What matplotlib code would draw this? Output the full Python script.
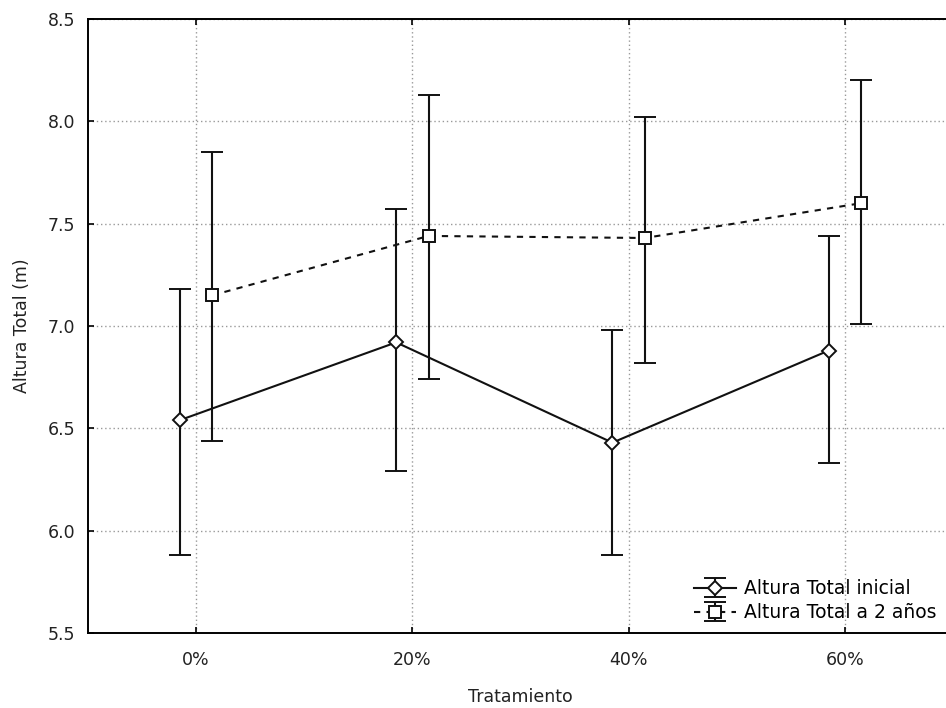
import numpy as np
import matplotlib.pyplot as plt

plt.rcParams['font.family'] = ['DejaVu Sans']

# tratamientos y medias con sus intervalos (limite inferior / superior)
tratamientos = ['0%', '20%', '40%', '60%']
inicial_media = [6.54, 6.92, 6.43, 6.88]
inicial_sup = [7.18, 7.57, 6.98, 7.44]
inicial_inf = [5.88, 6.29, 5.88, 6.33]
dos_anios_media = [7.15, 7.44, 7.43, 7.60]
dos_anios_sup = [7.85, 8.13, 8.02, 8.20]
dos_anios_inf = [6.44, 6.74, 6.82, 7.01]

x = np.arange(len(tratamientos))
desp = 0.075

fig = plt.figure(figsize=(9.46, 7.08), dpi=100)
ax = fig.add_axes([88/946, 75/708, 865/946, 614/708])

def barras(media, inf, sup):
    media = np.array(media)
    return [media - np.array(inf), np.array(sup) - media]

ax.errorbar(x - desp, inicial_media, yerr=barras(inicial_media, inicial_inf, inicial_sup),
            color='#111111', lw=1.5, elinewidth=1.5, capsize=8, capthick=1.5,
            marker='D', ms=7.5, mfc='white', mec='#111111', mew=1.4,
            label='Altura Total inicial', zorder=3)
ax.errorbar(x + desp, dos_anios_media, yerr=barras(dos_anios_media, dos_anios_inf, dos_anios_sup),
            color='#111111', lw=1.5, ls=(0, (3, 3)), elinewidth=1.5, capsize=8, capthick=1.5,
            marker='s', ms=8, mfc='white', mec='#111111', mew=1.4,
            label='Altura Total a 2 años', zorder=3)

ax.set_xlim(-0.5, 3.5)
ax.set_ylim(5.5, 8.5)
ax.set_xticks(x)
ax.set_xticklabels(tratamientos)
ax.set_yticks(np.arange(5.5, 8.51, 0.5))
ax.set_yticklabels(['%.1f' % v for v in np.arange(5.5, 8.51, 0.5)])

ax.grid(True, ls=(0, (1, 2)), color='#999999', lw=1)
ax.tick_params(direction='in', length=4, width=1.2, top=True, right=False,
               labelsize=12.5, labelcolor='#222222')
ax.tick_params(axis='y', pad=9)
ax.tick_params(axis='x', pad=13)
for s in ax.spines.values():
    s.set_linewidth(1.4)
ax.spines['right'].set_visible(False)

ax.set_xlabel('Tratamiento', fontsize=12.5, color='#222222', labelpad=14)
ax.set_ylabel('Altura Total (m)', fontsize=12.5, color='#222222', labelpad=12)

ax.legend(loc='upper left', bbox_to_anchor=(685/946, 1 - 570/708),
          bbox_transform=fig.transFigure, frameon=False, fontsize=13.5,
          borderpad=0, handlelength=2.2, handletextpad=0.45, labelspacing=0.25)

fig.savefig('out.png', dpi=100)
